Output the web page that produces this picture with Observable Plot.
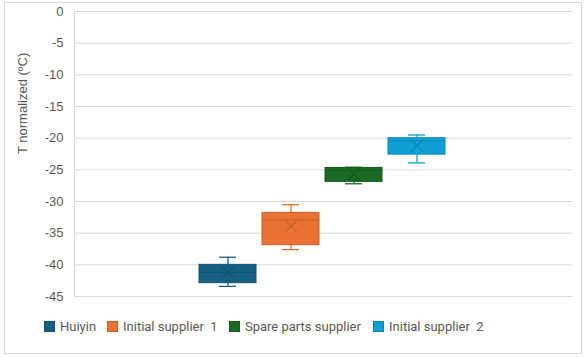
<!DOCTYPE html>
<html>
<head>
<meta charset="utf-8">
<script src="https://cdn.jsdelivr.net/npm/d3@7"></script>
<script src="https://cdn.jsdelivr.net/npm/@observablehq/plot@0.6"></script>
<style>
  html, body { margin: 0; padding: 0; background: #fff; }
  #wrap { position: relative; width: 587px; height: 357px; overflow: hidden; }
  #frame { position: absolute; left: 4px; top: 2px; width: 578px; height: 352px; border: 1px solid #d9d9d9; box-sizing: border-box; }
  #chart { position: absolute; left: 0; top: 0; }
  #legend { position: absolute; left: 0; top: 318px; width: 587px; font-family: Roboto, sans-serif; font-size: 13px; color: #595959; white-space: pre; }
  .item { position: absolute; top: 0; display: flex; align-items: center; height: 16px; }
  .sw { width: 11px; height: 11px; margin-right: 5px; box-sizing: border-box; }
</style>
</head>
<body>
<div id="wrap">
  <div id="frame"></div>
  <div id="chart"></div>
  <div id="legend"></div>
</div>
<script>
const series = ["Huiyin", "Initial supplier  1", "Spare parts supplier", "Initial supplier  2"];
const colors = ["#156082", "#E97132", "#196B24", "#0F9ED5"];
const minV   = [-43.4, -37.6, -27.2, -23.9];
const q1V    = [-42.9, -36.9, -26.9, -22.6];
const medV   = [-41.2, -32.9, -25.1, -20.4];
const q3V    = [-40.0, -31.8, -24.7, -20.0];
const maxV   = [-38.8, -30.5, -24.6, -19.5];
const meanV  = [-41.2, -33.9, -25.7, -21.2];
const yTicks = [0, -5, -10, -15, -20, -25, -30, -35, -40, -45];
const legendX = [44, 107, 229, 373];

const data = series.map((s, i) => ({
  s, color: colors[i], dark: d3.color(colors[i]).darker(0.45).formatHex(),
  min: minV[i], q1: q1V[i], med: medV[i], q3: q3V[i], max: maxV[i], mean: meanV[i]
}));

const chart = Plot.plot({
  width: 587,
  height: 310,
  marginTop: 11,
  marginLeft: 74,
  marginRight: 15,
  marginBottom: 14,
  style: { fontFamily: "'Liberation Sans', Arial, sans-serif", fontSize: "13px", color: "#595959", background: "transparent" },
  x: { type: "band", domain: series, range: [198, 446], paddingInner: 0.1, paddingOuter: 0, axis: null },
  y: { domain: [-45, 0], ticks: yTicks, tickSize: 0, tickPadding: 11, label: null },
  marks: [
    Plot.gridY(yTicks, { stroke: "#d9d9d9", strokeOpacity: 1 }),
    Plot.ruleY([-45], { stroke: "#d9d9d9" }),
    Plot.axisY(yTicks, { tickSize: 0, tickPadding: 11, fill: "#595959", fontSize: 13, label: null, tickFormat: d => String(d) }),
    Plot.text(["T normalized (ºC)"], { frameAnchor: "left", dx: -52, rotate: -90, fill: "#595959", fontSize: 13 }),
    // whiskers
    Plot.ruleX(data, { x: "s", y1: "q3", y2: "max", stroke: "color", strokeWidth: 1.3 }),
    Plot.ruleX(data, { x: "s", y1: "min", y2: "q1", stroke: "color", strokeWidth: 1.3 }),
    Plot.tickY(data, { x: "s", y: "max", stroke: "color", strokeWidth: 1.3, inset: 20 }),
    Plot.tickY(data, { x: "s", y: "min", stroke: "color", strokeWidth: 1.3, inset: 20 }),
    // boxes
    Plot.rect(data, { x: "s", y1: "q1", y2: "q3", fill: "color", stroke: "dark", strokeWidth: 1 }),
    Plot.tickY(data, { x: "s", y: "med", stroke: "dark", strokeWidth: 1 }),
    Plot.dot(data, { x: "s", y: "mean", symbol: "times", r: 5.5, stroke: "dark", strokeWidth: 1.2 })
  ]
});
document.getElementById("chart").appendChild(chart);

// left axis line
d3.select(chart).append("line")
  .attr("x1", 74.5).attr("x2", 74.5).attr("y1", 11).attr("y2", 296)
  .attr("stroke", "#d9d9d9");

const legend = document.getElementById("legend");
series.forEach((s, i) => {
  const it = document.createElement("div");
  it.className = "item";
  it.style.left = legendX[i] + "px";
  const sw = document.createElement("div");
  sw.className = "sw";
  sw.style.background = colors[i];
  sw.style.border = "1px solid " + d3.color(colors[i]).darker(0.45).formatHex();
  const t = document.createElement("span");
  t.textContent = s;
  it.appendChild(sw); it.appendChild(t);
  legend.appendChild(it);
});
</script>
</body>
</html>
